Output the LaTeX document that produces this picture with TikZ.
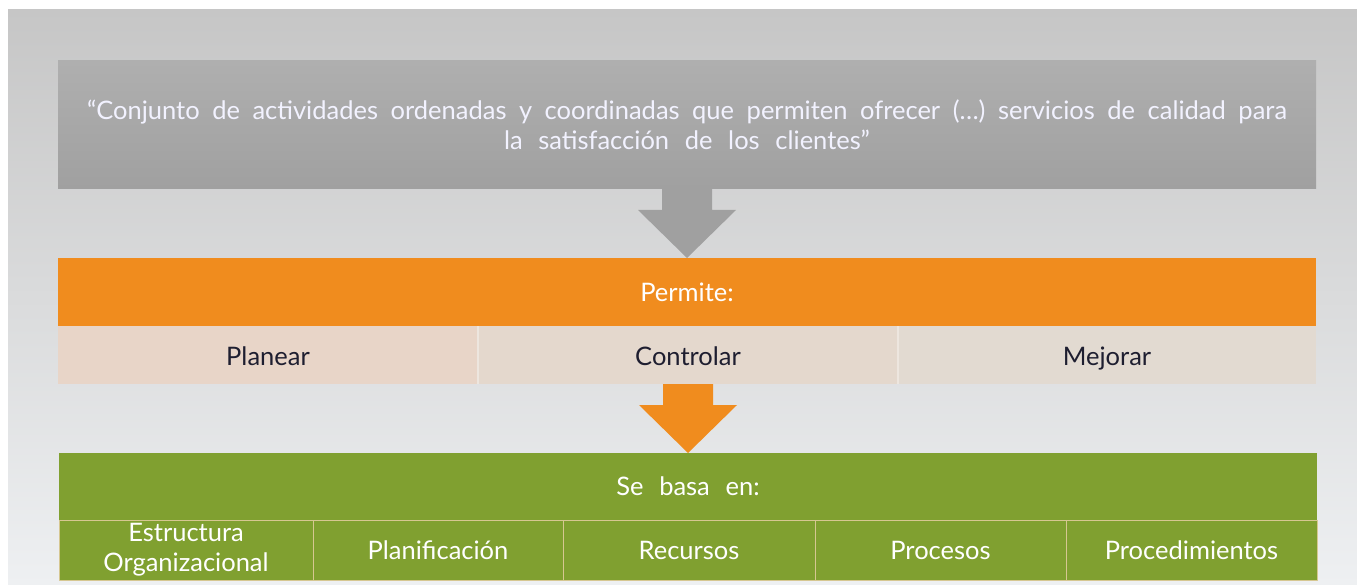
\documentclass[tikz,border=0pt]{standalone}
\usepackage{fontspec}
\setmainfont[WordSpace=2.4]{Lato}
\usetikzlibrary{positioning,calc}
\definecolor{fondoA}{HTML}{C6C6C6}
\definecolor{fondoB}{HTML}{EEF0F2}
\definecolor{grisA}{HTML}{AFAFAF}
\definecolor{grisB}{HTML}{A0A0A0}
\definecolor{naranja}{HTML}{F08C1E}
\definecolor{verde}{HTML}{80A030}
\definecolor{borde}{HTML}{D6C791}
\definecolor{texto}{HTML}{1E1E30}
\definecolor{crema1}{HTML}{E8D5C8}
\definecolor{crema2}{HTML}{E4D8CD}
\definecolor{crema3}{HTML}{E2DAD1}
\tikzset{
  barra/.style={minimum width=1258pt,inner sep=0pt,outer sep=0pt,text=white},
  celda/.style={minimum height=58pt,inner sep=0pt,outer sep=0pt,text=texto,text height=22pt,text depth=2pt},
  base/.style={minimum height=60pt,inner sep=0pt,outer sep=0pt,fill=verde,draw=borde,line width=1pt,text=white,align=center},
  divisor/.style={draw=white!35!crema2,line width=1.5pt}
}
% Flecha de bloque entre dos nodos
\newcommand{\flecha}[3]{%
  \fill[#3] ($(#1.south)+(-25,0)$) -- ($(#1.south)+(-25,21)$) -- ($(#1.south)+(-49,21)$)
    -- (#2.north) -- ($(#1.south)+(49,21)$) -- ($(#1.south)+(25,21)$) -- ($(#1.south)+(25,0)$) -- cycle;}
\begin{document}
\begin{tikzpicture}[x=1pt,y=-1pt,line join=round,font=\fontsize{25.5}{30}\selectfont]
  % Fondo
  \useasboundingbox (0,0) rectangle (1357,585);
  \shade[top color=fondoA,bottom color=fondoB] (8,10) rectangle (1357,585);
  % Definicion
  \node[barra,minimum height=128pt,top color=grisA,bottom color=grisB,text=white!95!blue,align=center] (cita) at (687,125)
    {\makebox[1200pt][s]{“Conjunto de actividades ordenadas y coordinadas que permiten ofrecer (…) servicios de calidad para}\\la satisfacción de los clientes”};
  % Permite
  \node[barra,minimum height=68pt,fill=naranja,below=69pt of cita] (permite) {Permite:};
  \node[celda,minimum width=420pt,fill=crema1,below right=0pt and 0pt of permite.south west] (planear) {Planear};
  \node[celda,minimum width=420pt,fill=crema2,right=0pt of planear] (controlar) {Controlar};
  \node[celda,minimum width=418pt,fill=crema3,right=0pt of controlar] (mejorar) {Mejorar};
  \draw[divisor] (planear.north east) -- (planear.south east);
  \draw[divisor] (controlar.north east) -- (controlar.south east);
  % Se basa en
  \node[barra,minimum height=67pt,fill=verde,below=69pt of controlar] (basa) {Se basa en:};
  \node[base,minimum width=254pt,below right=0pt and 0pt of basa.south west] (estructura) {Estructura\\Organizacional};
  \node[base,minimum width=250pt,right=0pt of estructura] (planificacion) {Planificación};
  \node[base,minimum width=252pt,right=0pt of planificacion] (recursos) {Recursos};
  \node[base,minimum width=251pt,right=0pt of recursos] (procesos) {Procesos};
  \node[base,minimum width=251pt,right=0pt of procesos] (procedimientos) {Procedimientos};
  % Flechas
  \flecha{cita}{permite}{grisB}
  \flecha{controlar}{basa}{naranja}
\end{tikzpicture}
\end{document}
